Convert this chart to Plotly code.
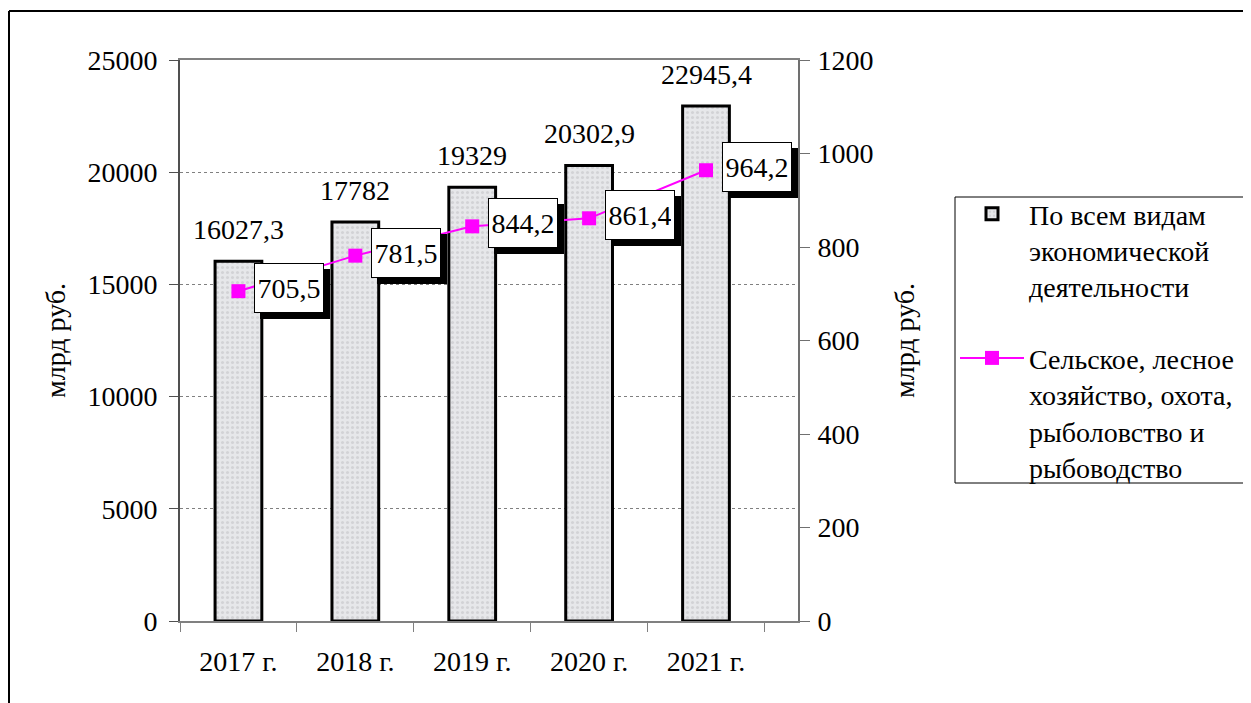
import plotly.graph_objects as go

years = ["2017 г.", "2018 г.", "2019 г.", "2020 г.", "2021 г."]
total = [16027.3, 17782, 19329, 20302.9, 22945.4]
agri = [705.5, 781.5, 844.2, 861.4, 964.2]
total_labels = ["16027,3", "17782", "19329", "20302,9", "22945,4"]
agri_labels = ["705,5", "781,5", "844,2", "861,4", "964,2"]
name_total = "По всем видам<br>экономической<br>деятельности"
name_agri = "Сельское, лесное<br>хозяйство, охота,<br>рыболовство и<br>рыбоводство"

W, H = 1251, 703
OFF = 8  # page body margin
L, R, T, B = 180 - OFF, 798 - OFF, 60 - OFF, 621 - OFF
FONT = "Liberation Serif"
FS = 28


def px(xs):
    return (xs - OFF - L) / (R - L)


def py(ys):
    return (B - (ys - OFF)) / (B - T)


def f(size=FS, family=FONT):
    return dict(family=family, size=size, color="black")


fig = go.Figure()
fig.add_trace(go.Bar(
    x=years, y=total, name=name_total, width=0.4,
    legendgroup="a",
    marker=dict(
        color="#e0e1e4",
        line=dict(color="black", width=3),
        pattern=dict(shape=".", bgcolor="#e6e7ea", fgcolor="#bdbec2",
                     size=5, solidity=0.3),
    ),
    yaxis="y",
))
fig.add_trace(go.Scatter(
    x=years, y=agri, name=name_agri, mode="lines+markers",
    legendgroup="b",
    line=dict(color="#ff00ff", width=2),
    marker=dict(symbol="square", size=14, color="#ff00ff"),
    yaxis="y2",
))

ann = []
for yr, v, t in zip(years, total, total_labels):
    ann.append(dict(x=yr, y=v, xref="x", yref="y", text=t, showarrow=False,
                    yanchor="bottom", yshift=14, font=f()))
for yr, v, t in zip(years, agri, agri_labels):
    ann.append(dict(x=yr, y=v, xref="x", yref="y2", text=t, showarrow=False,
                    xanchor="left", yanchor="middle", xshift=22, yshift=-3,
                    width=62, height=42, borderpad=3, borderwidth=1,
                    bgcolor="black", bordercolor="black", font=f()))
for yr, v, t in zip(years, agri, agri_labels):
    ann.append(dict(x=yr, y=v, xref="x", yref="y2", text=t, showarrow=False,
                    xanchor="left", yanchor="middle", xshift=16, yshift=3,
                    width=62, height=42, borderpad=3, borderwidth=1,
                    bgcolor="white", bordercolor="black", font=f()))

shapes = [
    dict(type="line", xref="paper", yref="paper",
         x0=px(9), y0=py(11), x1=px(W + 20), y1=py(11),
         line=dict(color="black", width=2)),
    dict(type="line", xref="paper", yref="paper",
         x0=px(9), y0=py(11), x1=px(9), y1=py(H + 20),
         line=dict(color="black", width=2)),
    # legend frame
    dict(type="rect", xref="paper", yref="paper",
         x0=px(955), y0=py(197), x1=px(1249), y1=py(483),
         line=dict(color="black", width=1)),
]

fig.update_layout(
    width=W, height=H,
    margin=dict(l=L, r=W - R, t=T, b=H - B, autoexpand=False),
    paper_bgcolor="white", plot_bgcolor="white",
    font=f(),
    bargap=0.6,
    showlegend=True,
    legend=dict(x=px(955), y=py(189), xanchor="left", yanchor="top",
                borderwidth=0, bgcolor="rgba(0,0,0,0)",
                font=f(), traceorder="grouped", tracegroupgap=32,
                itemwidth=64, valign="top"),
    xaxis=dict(
        showline=True, linecolor="#808080", linewidth=2, mirror=True,
        ticks="outside", ticklen=9, tickcolor="#808080", tickson="boundaries",
        ticklabelstandoff=14,
        showgrid=False, tickfont=f(),
    ),
    yaxis=dict(
        range=[0, 25000], dtick=5000, tick0=0, tickformat="d",
        showline=True, linecolor="#505050", linewidth=2,
        ticks="outside", ticklen=9, tickcolor="#505050",
        ticklabelstandoff=6,
        showgrid=True, gridcolor="#808080", griddash="dot", gridwidth=1,
        zeroline=False, tickfont=f(),
        title=dict(text="млрд руб.", standoff=14, font=f()),
    ),
    yaxis2=dict(
        range=[0, 1200], dtick=200, tick0=0, tickformat="d", overlaying="y",
        side="right",
        showline=True, linecolor="#707070", linewidth=2,
        ticks="outside", ticklen=10, tickcolor="#707070",
        ticklabelstandoff=2,
        showgrid=False, zeroline=False, tickfont=f(),
        title=dict(text="млрд руб.", standoff=22, font=f()),
    ),
    annotations=ann,
    shapes=shapes,
)

fig.write_html("out.html")
